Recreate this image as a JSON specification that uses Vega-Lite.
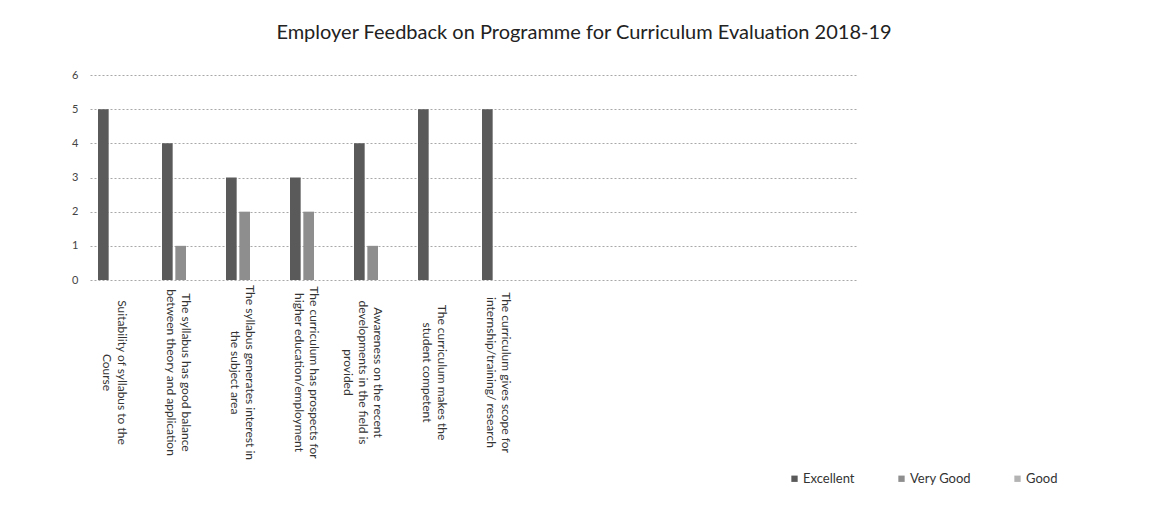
{
  "$schema": "https://vega.github.io/schema/vega-lite/v6.json",
  "width": 768,
  "height": 205,
  "autosize": {"type": "none"},
  "padding": {"left": 90, "top": 75, "right": 310, "bottom": 226},
  "background": "white",
  "title": {
    "text": "Employer  Feedback on Programme for Curriculum Evaluation 2018-19",
    "font": "Lato",
    "fontSize": 20,
    "fontWeight": "normal",
    "color": "#222222",
    "anchor": "middle",
    "frame": "group",
    "dx": 110,
    "dy": 25,
    "baseline": "bottom",
    "offset": 31
  },
  "data": {
    "values": [
      {"question": "Suitability of syllabus to the|Course", "rating": "Excellent", "score": 5},
      {"question": "Suitability of syllabus to the|Course", "rating": "Very Good", "score": 0},
      {"question": "Suitability of syllabus to the|Course", "rating": "Good", "score": 0},
      {"question": "The syllabus has good balance|between theory and application", "rating": "Excellent", "score": 4},
      {"question": "The syllabus has good balance|between theory and application", "rating": "Very Good", "score": 1},
      {"question": "The syllabus has good balance|between theory and application", "rating": "Good", "score": 0},
      {"question": "The syllabus generates interest in|the subject area", "rating": "Excellent", "score": 3},
      {"question": "The syllabus generates interest in|the subject area", "rating": "Very Good", "score": 2},
      {"question": "The syllabus generates interest in|the subject area", "rating": "Good", "score": 0},
      {"question": "The curriculum has prospects for|higher education/employment", "rating": "Excellent", "score": 3},
      {"question": "The curriculum has prospects for|higher education/employment", "rating": "Very Good", "score": 2},
      {"question": "The curriculum has prospects for|higher education/employment", "rating": "Good", "score": 0},
      {"question": "Awareness on the recent|developments in the field is|provided", "rating": "Excellent", "score": 4},
      {"question": "Awareness on the recent|developments in the field is|provided", "rating": "Very Good", "score": 1},
      {"question": "Awareness on the recent|developments in the field is|provided", "rating": "Good", "score": 0},
      {"question": "The curriculum makes the|student competent", "rating": "Excellent", "score": 5},
      {"question": "The curriculum makes the|student competent", "rating": "Very Good", "score": 0},
      {"question": "The curriculum makes the|student competent", "rating": "Good", "score": 0},
      {"question": "The curriculum gives scope for|internship/training/ research", "rating": "Excellent", "score": 5},
      {"question": "The curriculum gives scope for|internship/training/ research", "rating": "Very Good", "score": 0},
      {"question": "The curriculum gives scope for|internship/training/ research", "rating": "Good", "score": 0}
    ]
  },
  "mark": {"type": "bar"},
  "encoding": {
    "x": {
      "field": "question",
      "type": "nominal",
      "sort": null,
      "scale": {
        "domain": [
          "Suitability of syllabus to the|Course",
          "The syllabus has good balance|between theory and application",
          "The syllabus generates interest in|the subject area",
          "The curriculum has prospects for|higher education/employment",
          "Awareness on the recent|developments in the field is|provided",
          "The curriculum makes the|student competent",
          "The curriculum gives scope for|internship/training/ research",
          "blank1", "blank2", "blank3", "blank4", "blank5"
        ],
        "paddingInner": 0,
        "paddingOuter": 0
      },
      "axis": {
        "title": null,
        "labelAngle": 90,
        "labelAlign": "center",
        "labelBaseline": "middle",
        "labelPadding": 92,
        "ticks": false,
        "tickSize": 0,
        "domain": false,
        "labelFont": "Lato",
        "labelFontSize": 12,
        "labelColor": "#333333",
        "labelLimit": 0,
        "labelOverlap": false,
        "labelLineHeight": 15,
        "labelExpr": "indexof(datum.label, 'blank') == 0 ? '' : split(datum.label, '|')"
      }
    },
    "xOffset": {
      "field": "rating",
      "type": "nominal",
      "scale": {
        "domain": ["Excellent", "Very Good", "Good"],
        "paddingInner": 0.2,
        "paddingOuter": 1.8,
        "align": 0.3
      }
    },
    "y": {
      "field": "score",
      "type": "quantitative",
      "scale": {"domain": [0, 6], "nice": false},
      "axis": {
        "title": null,
        "values": [0, 1, 2, 3, 4, 5, 6],
        "domain": false,
        "ticks": false,
        "labelPadding": 12,
        "labelFont": "Lato",
        "labelFontSize": 11,
        "labelColor": "#444444",
        "gridColor": "#a8a8a8",
        "gridDash": [2, 2],
        "gridWidth": 1
      }
    },
    "color": {
      "field": "rating",
      "type": "nominal",
      "scale": {
        "domain": ["Excellent", "Very Good", "Good"],
        "range": ["#5a5a5a", "#8e8e8e", "#b3b3b3"]
      },
      "legend": {
        "title": null,
        "orient": "none",
        "legendX": 698,
        "legendY": 397,
        "direction": "horizontal",
        "symbolType": "square",
        "symbolSize": 40,
        "symbolStrokeWidth": 0,
        "labelOffset": 2,
        "labelFont": "Lato",
        "labelFontSize": 13,
        "labelColor": "#333333",
        "columnPadding": 40
      }
    }
  },
  "config": {
    "view": {"stroke": null}
  }
}
